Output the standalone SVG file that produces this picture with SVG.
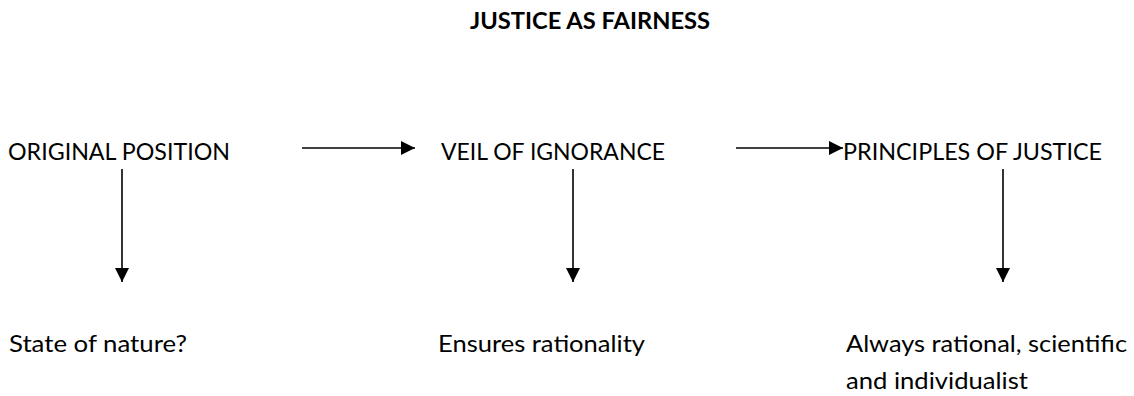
<svg xmlns="http://www.w3.org/2000/svg" width="1134" height="396" viewBox="0 0 1134 396">
  <style>
    .t { font-family: Lato, "Open Sans", "Liberation Sans", sans-serif; font-size: 23px; fill: #000; }
    .title { font-weight: bold; }
    .conn line { stroke: #000; stroke-width: 1.6; fill: none; }
  </style>
  <defs>
    <marker id="head" viewBox="0 0 14 14" refX="14" refY="7" markerWidth="14" markerHeight="14" markerUnits="userSpaceOnUse" orient="auto">
      <path d="M0,0 L14,7 L0,14 Z" fill="#000"/>
    </marker>
  </defs>
  <rect width="1134" height="396" fill="#fff"/>

  <g id="title">
    <text class="t title" x="470" y="29" textLength="240" lengthAdjust="spacingAndGlyphs">JUSTICE AS FAIRNESS</text>
  </g>

  <g id="original-position">
    <text class="t" x="8" y="159.5" textLength="222" lengthAdjust="spacingAndGlyphs">ORIGINAL POSITION</text>
  </g>
  <g id="veil-of-ignorance">
    <text class="t" x="441" y="159.5" textLength="224" lengthAdjust="spacingAndGlyphs">VEIL OF IGNORANCE</text>
  </g>
  <g id="principles-of-justice">
    <text class="t" x="843" y="159.5" textLength="259" lengthAdjust="spacingAndGlyphs">PRINCIPLES OF JUSTICE</text>
  </g>

  <g id="state-of-nature">
    <text class="t" x="9" y="352" textLength="178" lengthAdjust="spacingAndGlyphs">State of nature?</text>
  </g>
  <g id="ensures-rationality">
    <text class="t" x="438" y="352" textLength="207" lengthAdjust="spacingAndGlyphs">Ensures rationality</text>
  </g>
  <g id="always-rational">
    <text class="t" x="846" y="352" textLength="281" lengthAdjust="spacingAndGlyphs">Always rational, scientific</text>
    <text class="t" x="846" y="389" textLength="182" lengthAdjust="spacingAndGlyphs">and individualist</text>
  </g>

  <g id="connectors" class="conn">
    <line x1="302" y1="148" x2="415" y2="148" marker-end="url(#head)"/>
    <line x1="736" y1="148" x2="843" y2="148" marker-end="url(#head)"/>
    <line x1="122" y1="169" x2="122" y2="282" marker-end="url(#head)"/>
    <line x1="573" y1="169" x2="573" y2="282" marker-end="url(#head)"/>
    <line x1="1003" y1="169" x2="1003" y2="282" marker-end="url(#head)"/>
  </g>
</svg>
